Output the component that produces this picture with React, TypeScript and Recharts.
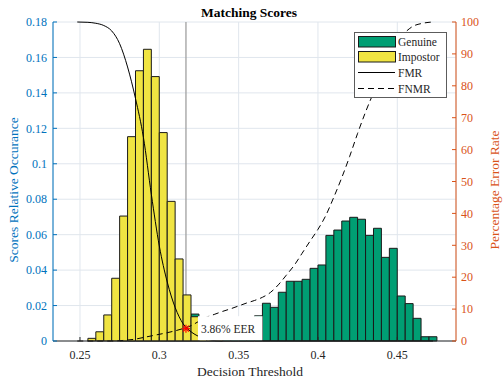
import React from 'react';
import {
  Bar,
  CartesianGrid,
  ComposedChart,
  Line,
  ReferenceDot,
  ReferenceLine,
  XAxis,
  YAxis,
} from 'recharts';

// histogram bin centres (bin width 0.005)
const binCenters = [
  0.2575, 0.2625, 0.2675, 0.2725, 0.2775, 0.2825, 0.2875, 0.2925, 0.2975, 0.3025, 0.3075,
  0.3125, 0.3175, 0.3225, 0.3275, 0.3325, 0.3375, 0.3425, 0.3475, 0.3525, 0.3575, 0.3625,
  0.3675, 0.3725, 0.3775, 0.3825, 0.3875, 0.3925, 0.3975, 0.4025, 0.4075, 0.4125, 0.4175,
  0.4225, 0.4275, 0.4325, 0.4375, 0.4425, 0.4475, 0.4525, 0.4575, 0.4625, 0.4675, 0.4725,
];

const genuine = [
  0, 0, 0, 0, 0.002, 0.004, 0.005, 0.005, 0.005, 0.005, 0.006,
  0.007, 0.008, 0.0152, 0.008, 0.009, 0.009, 0.01, 0.01, 0.011, 0.012, 0.0142,
  0.0213, 0.019, 0.0275, 0.0337, 0.0337, 0.0348, 0.041, 0.0429, 0.0596, 0.0626, 0.0677,
  0.0698, 0.0687, 0.0596, 0.0636, 0.0472, 0.0523, 0.0254, 0.0211, 0.0128, 0.0024, 0.0024,
];

const impostor = [
  0.0015, 0.0052, 0.0147, 0.0354, 0.0705, 0.1153, 0.1525, 0.1646, 0.1492, 0.1176, 0.0788,
  0.0463, 0.026, 0.0137, 0.006, 0.002, 0.0007, 0, 0, 0, 0, 0,
  0, 0, 0, 0, 0, 0, 0, 0, 0, 0, 0,
  0, 0, 0, 0, 0, 0, 0, 0, 0, 0, 0,
];

// error rate curves (%)
const fmrThresholds = [
  0.2483, 0.255, 0.26, 0.265, 0.27, 0.275, 0.28, 0.285, 0.29, 0.295, 0.3, 0.305, 0.31, 0.315,
  0.32, 0.325, 0.33, 0.335, 0.34, 0.36, 0.4, 0.44, 0.4725,
];
const fmrValues = [
  100, 99.9, 99.6, 98.9, 97.2, 93.2, 85.9, 76.0, 63.8, 45.9, 29.8, 18.5, 10.5, 5.4,
  2.9, 1.4, 0.5, 0.1, 0, 0, 0, 0, 0,
];

const fnmrThresholds = [
  0.2483, 0.27, 0.275, 0.28, 0.285, 0.29, 0.295, 0.3, 0.305, 0.31, 0.315, 0.32, 0.325, 0.33,
  0.335, 0.34, 0.345, 0.35, 0.355, 0.36, 0.365, 0.37, 0.375, 0.38, 0.385, 0.39, 0.395, 0.4,
  0.405, 0.41, 0.415, 0.42, 0.425, 0.43, 0.435, 0.44, 0.445, 0.45, 0.455, 0.46, 0.465, 0.47,
  0.4725,
];
const fnmrValues = [
  0, 0, 0.1, 0.3, 0.6, 1.1, 1.6, 2.1, 2.6, 3.2, 3.9, 4.8, 6.2, 7.5,
  8.4, 9.3, 10.1, 11.0, 11.9, 12.7, 13.7, 15.2, 17.6, 20.6, 23.7, 27.5, 31.3, 35.0,
  39.4, 45.1, 51.2, 57.9, 65.1, 71.8, 77.9, 84.3, 89.2, 94.3, 96.8, 98.7, 99.5, 99.9,
  100,
];

const xTicks = [0.25, 0.3, 0.35, 0.4, 0.45];
const scoreTicks = [0, 0.02, 0.04, 0.06, 0.08, 0.1, 0.12, 0.14, 0.16, 0.18];
const pctTicks = [0, 10, 20, 30, 40, 50, 60, 70, 80, 90, 100];

const eerThreshold = 0.3168;
const eerRate = 3.86;

const X_DOMAIN: [number, number] = [0.233, 0.487];
const FONT = '"Liberation Serif", "Times New Roman", serif';
const BLUE = '#0072BD';
const ORANGE = '#D95319';
const INK = '#262626';
const GREEN = '#009E73';
const YELLOW = '#F0E442';

const histData = binCenters.map((x, i) => ({ x, genuine: genuine[i], impostor: impostor[i] }));
const fmrData = fmrThresholds.map((t, i) => ({ t, fmr: fmrValues[i] }));
const fnmrData = fnmrThresholds.map((t, i) => ({ t, fnmr: fnmrValues[i] }));

function EerMarker(props: any) {
  const { cx, cy } = props;
  const r = 4;
  return (
    <g stroke="#ff0000" strokeWidth={1.2}>
      <line x1={cx - r} y1={cy} x2={cx + r} y2={cy} />
      <line x1={cx} y1={cy - r} x2={cx} y2={cy + r} />
      <line x1={cx - 3} y1={cy - 3} x2={cx + 3} y2={cy + 3} />
      <line x1={cx - 3} y1={cy + 3} x2={cx + 3} y2={cy - 3} />
    </g>
  );
}

function EerLabel(props: any) {
  const vb = props.viewBox || {};
  const cx = vb.x + (vb.width || 0) / 2;
  const cy = vb.y + (vb.height || 0) / 2;
  return (
    <g>
      <rect x={cx + 12} y={cy - 12.5} width={64.5} height={24} fill="#fff" />
      <text x={cx + 15} y={cy + 4.5} fontSize={11.5} fontFamily={FONT} fill={INK}>
        {`${eerRate}% EER`}
      </text>
    </g>
  );
}

function LegendBox() {
  return (
    <svg
      width={93}
      height={66}
      style={{ position: 'absolute', left: 354, top: 32, overflow: 'visible' }}
    >
      <rect x={0.5} y={0.5} width={92} height={65} fill="#fff" stroke="#5c5c5c" strokeWidth={1} />
      <rect x={4.5} y={4.5} width={37} height={10.5} fill={GREEN} stroke="#1a1a1a" />
      <rect x={4.5} y={19.5} width={37} height={10.5} fill={YELLOW} stroke="#1a1a1a" />
      <line x1={4} y1={40.5} x2={41} y2={40.5} stroke="#000" strokeWidth={1} />
      <line x1={4} y1={56.5} x2={41} y2={56.5} stroke="#000" strokeWidth={1} strokeDasharray="6 4" />
      <g fontFamily={FONT} fontSize={11.5} fill={INK}>
        <text x={44} y={14}>Genuine</text>
        <text x={44} y={29}>Impostor</text>
        <text x={44} y={44.5}>FMR</text>
        <text x={44} y={60.5}>FNMR</text>
      </g>
    </svg>
  );
}

export default function App() {
  return (
    <div
      style={{
        position: 'absolute',
        left: 0,
        top: 0,
        width: 503,
        height: 378,
        background: '#fff',
        fontFamily: FONT,
      }}
    >
      <ComposedChart
        width={503}
        height={378}
        data={histData}
        margin={{ top: 22, right: 7, bottom: 7, left: 8 }}
        style={{ fontFamily: FONT }}
      >
        <CartesianGrid xAxisId="thr" yAxisId="score" stroke="#e0e6ed" strokeWidth={1} />
        <XAxis
          xAxisId="thr"
          dataKey="t"
          type="number"
          domain={X_DOMAIN}
          ticks={xTicks}
          allowDataOverflow
          height={30}
          tickSize={-4}
          tickMargin={13}
          axisLine={{ stroke: INK }}
          tickLine={{ stroke: INK }}
          tick={{ fill: INK, fontSize: 12, fontFamily: FONT, style: { fontFamily: FONT } }}
        />
        <XAxis xAxisId="gen" dataKey="x" type="number" domain={X_DOMAIN} allowDataOverflow hide height={0} />
        <XAxis xAxisId="imp" dataKey="x" type="number" domain={X_DOMAIN} allowDataOverflow hide height={0} />
        <YAxis
          yAxisId="score"
          domain={[0, 0.18]}
          ticks={scoreTicks}
          width={45}
          tickSize={-4}
          tickMargin={10}
          axisLine={{ stroke: BLUE }}
          tickLine={{ stroke: BLUE }}
          tick={{ fill: BLUE, fontSize: 12, fontFamily: FONT, style: { fontFamily: FONT } }}
        />
        <YAxis
          yAxisId="pct"
          orientation="right"
          domain={[0, 100]}
          ticks={pctTicks}
          width={40}
          tickSize={-4}
          tickMargin={9}
          axisLine={{ stroke: ORANGE }}
          tickLine={{ stroke: ORANGE }}
          tick={{ fill: ORANGE, fontSize: 12, fontFamily: FONT, style: { fontFamily: FONT } }}
        />
        <ReferenceLine
          xAxisId="thr"
          yAxisId="pct"
          x={eerThreshold}
          stroke="#a0a0a0"
          strokeWidth={1.3}
          zIndex={-10}
        />
        <Bar
          xAxisId="gen"
          yAxisId="score"
          dataKey="genuine"
          fill={GREEN}
          stroke="#1a1a1a"
          strokeWidth={1}
          barSize={7.9}
          isAnimationActive={false}
        />
        <Bar
          xAxisId="imp"
          yAxisId="score"
          dataKey="impostor"
          fill={YELLOW}
          stroke="#1a1a1a"
          strokeWidth={1}
          barSize={7.9}
          isAnimationActive={false}
        />
        <Line
          xAxisId="thr"
          yAxisId="pct"
          data={fmrData}
          dataKey="fmr"
          type="monotone"
          stroke="#000"
          strokeWidth={1}
          dot={false}
          isAnimationActive={false}
        />
        <Line
          xAxisId="thr"
          yAxisId="pct"
          data={fnmrData}
          dataKey="fnmr"
          type="monotone"
          stroke="#000"
          strokeWidth={1}
          strokeDasharray="6 4"
          dot={false}
          isAnimationActive={false}
        />
        <ReferenceDot
          xAxisId="thr"
          yAxisId="pct"
          x={eerThreshold}
          y={eerRate}
          r={4}
          shape={EerMarker}
          label={(p: any) => <EerLabel {...p} />}
        />
      </ComposedChart>

      <svg
        width={503}
        height={378}
        style={{ position: 'absolute', left: 0, top: 0, pointerEvents: 'none' }}
      >
        <text x={249} y={17} textAnchor="middle" fontFamily={FONT} fontWeight="bold" fontSize={13.5} fill="#000">
          Matching Scores
        </text>
        <text x={250} y={376} textAnchor="middle" fontFamily={FONT} fontSize={13.5} fill={INK}>
          Decision Threshold
        </text>
        <text
          x={0}
          y={0}
          transform="translate(18,190) rotate(-90)"
          textAnchor="middle"
          fontFamily={FONT}
          fontSize={13.5}
          fill={BLUE}
        >
          Scores Relative Occurance
        </text>
        <text
          x={0}
          y={0}
          transform="translate(499,190) rotate(-90)"
          textAnchor="middle"
          fontFamily={FONT}
          fontSize={13.5}
          fill={ORANGE}
        >
          Percentage Error Rate
        </text>
      </svg>
      <LegendBox />
    </div>
  );
}
